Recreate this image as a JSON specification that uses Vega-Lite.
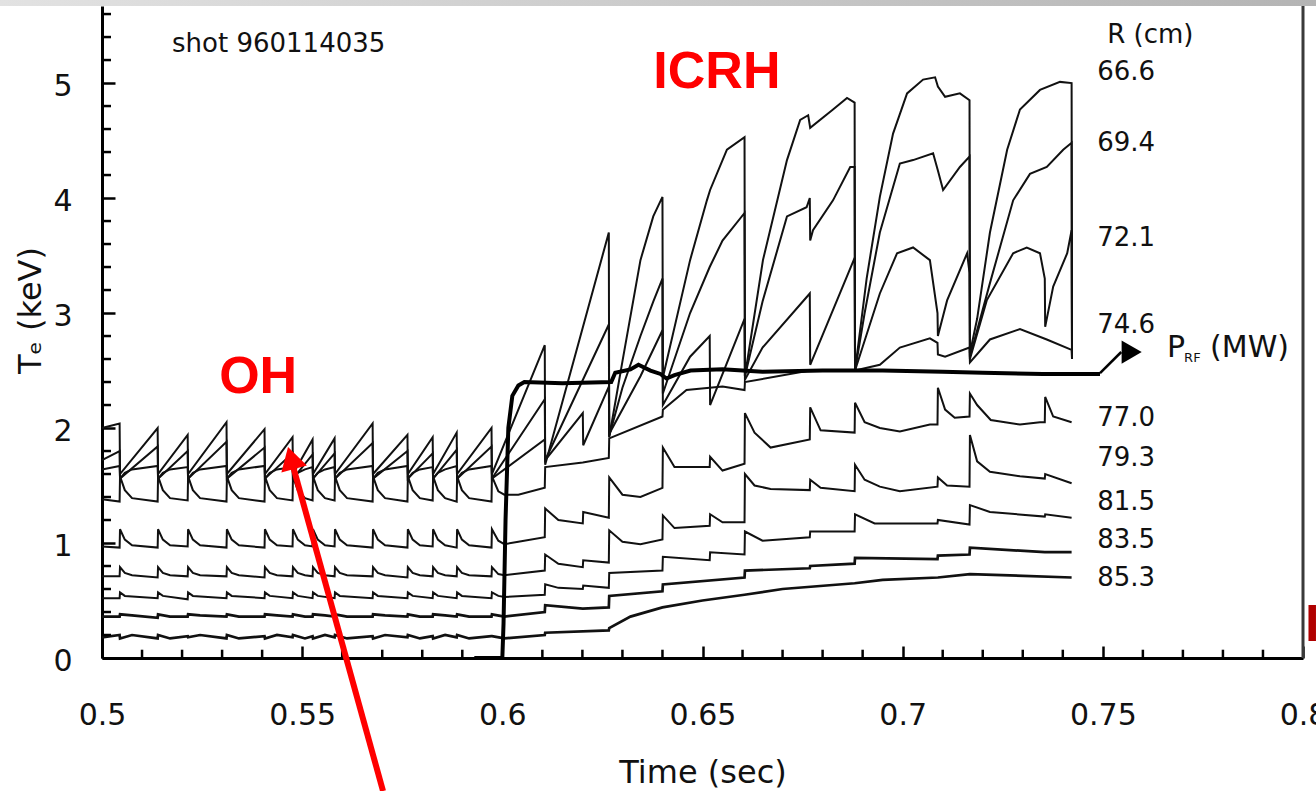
{
  "$schema": "https://vega.github.io/schema/vega-lite/v6.json",
  "width": 1201,
  "height": 652,
  "autosize": {"type": "none"},
  "padding": {"left": 102, "top": 6, "right": 13, "bottom": 133},
  "background": "white",
  "config": {"view": {"stroke": null}, "font": "DejaVu Sans", "axis": {"grid": false}},
  "datasets": {
    "te": [
      {"t":0.5,"a":2.0,"b":1.72,"c":1.64,"d":1.38,"e":0.97,"f":0.71,"g":0.52,"h":0.36,"i":0.18},
      {"t":0.5044,"a":2.04,"b":1.8,"c":1.67,"d":1.36,"e":0.96,"f":0.71,"g":0.52,"h":0.36,"i":0.2},
      {"t":0.5045,"a":1.6,"b":1.56,"c":1.56,"d":1.58,"e":1.12,"f":0.79,"g":0.57,"h":0.38,"i":0.17},
      {"t":0.5057,"c":1.61,"d":1.46,"e":1.03,"f":0.74,"g":0.54},
      {"t":0.5075,"c":1.64,"d":1.39,"e":0.98,"f":0.72,"h":0.37,"i":0.2},
      {"t":0.5139,"a":2.0,"b":1.84,"c":1.67,"d":1.36,"e":0.96,"f":0.7,"g":0.52,"h":0.35,"i":0.17},
      {"t":0.514,"a":1.6,"b":1.56,"c":1.56,"d":1.58,"e":1.12,"f":0.79,"g":0.57,"h":0.38,"i":0.2},
      {"t":0.5152,"c":1.61,"d":1.46,"e":1.03,"f":0.74,"g":0.54},
      {"t":0.517,"c":1.64,"d":1.39,"e":0.98,"f":0.72,"h":0.36,"i":0.17},
      {"t":0.5214,"a":1.94,"b":1.8,"c":1.66,"d":1.37,"e":0.97,"f":0.71,"g":0.51,"h":0.36,"i":0.19},
      {"t":0.5215,"a":1.6,"b":1.56,"c":1.56,"d":1.58,"e":1.12,"f":0.79,"g":0.57,"h":0.38,"i":0.18},
      {"t":0.5227,"c":1.61,"d":1.46,"e":1.03,"f":0.74,"g":0.54},
      {"t":0.5245,"c":1.64,"d":1.39,"e":0.98,"f":0.72,"h":0.37,"i":0.2},
      {"t":0.5311,"a":2.05,"b":1.88,"c":1.67,"d":1.36,"e":0.96,"f":0.71,"g":0.52,"h":0.36,"i":0.17},
      {"t":0.5312,"a":1.6,"b":1.56,"c":1.56,"d":1.58,"e":1.12,"f":0.79,"g":0.57,"h":0.38,"i":0.2},
      {"t":0.5324,"c":1.61,"d":1.46,"e":1.03,"f":0.74,"g":0.54},
      {"t":0.5342,"c":1.64,"d":1.39,"e":0.98,"f":0.72,"h":0.36,"i":0.17},
      {"t":0.5406,"a":1.99,"b":1.83,"c":1.67,"d":1.36,"e":0.96,"f":0.7,"g":0.52,"h":0.36,"i":0.19},
      {"t":0.5407,"a":1.6,"b":1.56,"c":1.56,"d":1.58,"e":1.12,"f":0.79,"g":0.57,"h":0.38,"i":0.17},
      {"t":0.5419,"c":1.61,"d":1.46,"e":1.03,"f":0.74,"g":0.54},
      {"t":0.5437,"c":1.64,"d":1.39,"e":0.98,"f":0.72,"h":0.37,"i":0.2},
      {"t":0.5476,"a":1.92,"b":1.78,"c":1.66,"d":1.37,"e":0.97,"f":0.71,"g":0.52,"h":0.36,"i":0.18},
      {"t":0.5477,"a":1.6,"b":1.56,"c":1.56,"d":1.58,"e":1.12,"f":0.79,"g":0.57,"h":0.38,"i":0.2},
      {"t":0.5489,"c":1.61,"d":1.46,"e":1.03,"f":0.74,"g":0.54},
      {"t":0.5507,"c":1.64,"d":1.39,"e":0.98,"f":0.72,"h":0.36,"i":0.17},
      {"t":0.5526,"a":1.9,"b":1.77,"c":1.66,"d":1.37,"e":0.97,"f":0.71,"g":0.52,"h":0.36,"i":0.19},
      {"t":0.5527,"a":1.6,"b":1.56,"c":1.56,"d":1.58,"e":1.12,"f":0.79,"g":0.57,"h":0.38,"i":0.17},
      {"t":0.5539,"c":1.61,"d":1.46,"e":1.03,"f":0.74,"g":0.54},
      {"t":0.5557,"c":1.64,"d":1.39,"e":0.98,"f":0.72,"h":0.37,"i":0.2},
      {"t":0.5581,"a":1.91,"b":1.78,"c":1.66,"d":1.37,"e":0.97,"f":0.71,"g":0.52,"h":0.36,"i":0.18},
      {"t":0.5582,"a":1.6,"b":1.56,"c":1.56,"d":1.58,"e":1.12,"f":0.79,"g":0.57,"h":0.38,"i":0.2},
      {"t":0.5594,"c":1.61,"d":1.46,"e":1.03,"f":0.74,"g":0.54},
      {"t":0.5612,"c":1.64,"d":1.39,"e":0.98,"f":0.72,"h":0.36,"i":0.17},
      {"t":0.5676,"a":2.04,"b":1.87,"c":1.67,"d":1.36,"e":0.96,"f":0.71,"g":0.52,"h":0.36,"i":0.19},
      {"t":0.5677,"a":1.6,"b":1.56,"c":1.56,"d":1.58,"e":1.12,"f":0.79,"g":0.57,"h":0.38,"i":0.17},
      {"t":0.5689,"c":1.61,"d":1.46,"e":1.03,"f":0.74,"g":0.54},
      {"t":0.5707,"c":1.64,"d":1.39,"e":0.98,"f":0.72,"h":0.37,"i":0.2},
      {"t":0.5763,"a":1.94,"b":1.8,"c":1.67,"d":1.36,"e":0.96,"f":0.7,"g":0.52,"h":0.36,"i":0.18},
      {"t":0.5764,"a":1.6,"b":1.56,"c":1.56,"d":1.58,"e":1.12,"f":0.79,"g":0.57,"h":0.38,"i":0.2},
      {"t":0.5776,"c":1.61,"d":1.46,"e":1.03,"f":0.74,"g":0.54},
      {"t":0.5794,"c":1.64,"d":1.39,"e":0.98,"f":0.72,"h":0.36,"i":0.17},
      {"t":0.5826,"a":1.92,"b":1.78,"c":1.66,"d":1.37,"e":0.97,"f":0.71,"g":0.52,"h":0.36,"i":0.19},
      {"t":0.5827,"a":1.6,"b":1.56,"c":1.56,"d":1.58,"e":1.12,"f":0.79,"g":0.57,"h":0.38,"i":0.17},
      {"t":0.5839,"c":1.61,"d":1.46,"e":1.03,"f":0.74,"g":0.54},
      {"t":0.5857,"c":1.64,"d":1.39,"e":0.98,"f":0.72,"h":0.37,"i":0.2},
      {"t":0.5886,"a":1.96,"b":1.81,"c":1.67,"d":1.36,"e":0.96,"f":0.71,"g":0.52,"h":0.36,"i":0.18},
      {"t":0.5887,"a":1.6,"b":1.56,"c":1.56,"d":1.58,"e":1.12,"f":0.79,"g":0.57,"h":0.38,"i":0.2},
      {"t":0.5899,"c":1.61,"d":1.46,"e":1.03,"f":0.74,"g":0.54},
      {"t":0.5917,"c":1.64,"d":1.39,"e":0.98,"f":0.72,"h":0.36,"i":0.17},
      {"t":0.5973,"a":2.0,"b":1.84,"c":1.67,"d":1.36,"e":0.96,"f":0.71,"g":0.52,"h":0.36,"i":0.19},
      {"t":0.5974,"a":1.6,"b":1.56,"c":1.56,"d":1.58,"e":1.12,"f":0.79,"g":0.57,"h":0.38,"i":0.19},
      {"t":0.599,"d":1.45,"e":1.02,"f":0.73,"g":0.54},
      {"t":0.6005,"d":1.42,"e":0.99,"f":0.72,"g":0.53,"h":0.36,"i":0.17},
      {"t":0.604,"d":1.42,"e":1.01},
      {"t":0.6106,"a":2.72,"b":2.25,"c":1.9,"d":1.48,"e":1.05,"f":0.76,"g":0.55,"h":0.4,"i":0.2},
      {"t":0.6107,"a":1.68,"b":1.72,"c":1.72,"d":1.66,"e":1.3,"f":0.9,"g":0.64,"h":0.46,"i":0.22},
      {"t":0.614,"e":1.2,"f":0.82,"g":0.61},
      {"t":0.6201,"c":2.13,"d":1.7,"e":1.17,"f":0.79,"g":0.6,"h":0.43},
      {"t":0.6202,"c":1.85,"e":1.27,"f":0.85,"g":0.63},
      {"t":0.6266,"a":3.7,"b":2.9,"c":2.36,"d":1.74,"e":1.22,"f":0.83,"g":0.61,"h":0.44,"i":0.24},
      {"t":0.6267,"a":1.92,"b":1.93,"c":1.95,"d":1.91,"e":1.57,"f":1.11,"g":0.74,"h":0.54,"i":0.26},
      {"t":0.63,"a":2.58,"b":2.35,"e":1.42,"f":1.01},
      {"t":0.632,"i":0.36},
      {"t":0.6345,"a":3.46,"b":2.8,"c":2.45,"e":1.4,"f":0.99},
      {"t":0.6377,"a":3.84,"b":3.1},
      {"t":0.64,"a":4.01,"b":3.3,"c":2.85,"d":2.1,"e":1.48,"f":1.03,"g":0.76,"h":0.58,"i":0.44},
      {"t":0.6401,"a":2.44,"b":2.3,"c":2.2,"d":2.16,"e":1.83,"f":1.24,"g":0.88,"h":0.64},
      {"t":0.643,"e":1.66,"f":1.13},
      {"t":0.646,"d":2.33},
      {"t":0.6469,"a":3.46,"b":3.0,"c":2.62},
      {"t":0.65,"i":0.5},
      {"t":0.6511,"a":3.98},
      {"t":0.6518,"b":3.4,"c":2.8,"e":1.66,"f":1.15,"g":0.85},
      {"t":0.6519,"a":4.07,"c":2.2,"e":1.75,"f":1.25,"g":0.92},
      {"t":0.655,"b":3.63,"d":2.36,"e":1.63,"f":1.18},
      {"t":0.6561,"a":4.42},
      {"t":0.6605,"a":4.53,"b":3.87,"c":2.95,"d":2.33,"e":1.69,"f":1.18,"g":0.9,"h":0.7,"i":0.55},
      {"t":0.6606,"a":2.45,"b":2.45,"c":2.42,"d":2.4,"e":2.13,"f":1.6,"g":1.1,"h":0.76},
      {"t":0.663,"e":1.96,"f":1.5},
      {"t":0.665,"b":3.1,"c":2.7,"g":1.02},
      {"t":0.6651,"a":3.46},
      {"t":0.667,"e":1.83,"f":1.47},
      {"t":0.67,"i":0.6},
      {"t":0.6711,"a":4.33,"b":3.84},
      {"t":0.6744,"a":4.68},
      {"t":0.676,"b":3.92},
      {"t":0.6764,"a":4.72},
      {"t":0.6768,"b":4.0,"c":3.17,"d":2.5,"e":1.9,"f":1.46,"g":1.05,"h":0.78},
      {"t":0.6769,"a":4.61,"b":3.63,"c":2.55,"e":2.18,"f":1.55,"g":1.1,"h":0.8},
      {"t":0.6776,"b":3.72},
      {"t":0.6795,"e":1.98,"f":1.48},
      {"t":0.6826,"a":4.77,"b":3.98},
      {"t":0.6861,"a":4.87},
      {"t":0.6869,"b":4.27},
      {"t":0.688,"a":4.83,"b":4.27,"c":3.48,"d":2.5,"e":1.96,"f":1.45,"g":1.1,"h":0.82,"i":0.65},
      {"t":0.6881,"a":2.5,"b":2.5,"c":2.5,"d":2.5,"e":2.22,"f":1.68,"g":1.25,"h":0.87},
      {"t":0.6905,"b":3.0,"e":2.05,"f":1.55},
      {"t":0.691,"a":3.3},
      {"t":0.693,"g":1.17},
      {"t":0.6943,"a":4.01,"b":3.7,"c":3.17,"d":2.55,"e":2.0,"f":1.49},
      {"t":0.695,"i":0.68},
      {"t":0.6976,"a":4.56},
      {"t":0.6986,"c":3.52},
      {"t":0.6993,"b":4.3,"d":2.7,"e":1.97,"f":1.45},
      {"t":0.7011,"a":4.91},
      {"t":0.7026,"b":4.33,"c":3.57},
      {"t":0.7051,"a":5.03},
      {"t":0.7068,"c":3.46,"d":2.78,"e":2.03},
      {"t":0.7076,"b":4.39},
      {"t":0.7081,"a":5.05},
      {"t":0.7087,"c":3.0,"d":2.74,"e":2.03,"f":1.49,"g":1.17,"h":0.86},
      {"t":0.7088,"a":4.97,"b":4.24,"c":2.8,"d":2.64,"e":2.35,"f":1.57,"g":1.2,"h":0.89,"i":0.7},
      {"t":0.7101,"b":4.07},
      {"t":0.7106,"a":4.88,"d":2.62,"e":2.16},
      {"t":0.7111,"c":3.11,"f":1.5},
      {"t":0.713,"e":2.09},
      {"t":0.7143,"a":4.91,"b":4.27},
      {"t":0.7161,"c":3.52},
      {"t":0.7167,"a":4.85,"b":4.36,"c":3.35,"d":2.7,"e":2.1,"f":1.49,"g":1.16,"h":0.9},
      {"t":0.7168,"a":2.65,"b":2.62,"c":2.6,"d":2.57,"e":2.3,"f":1.94,"g":1.33,"h":0.96,"i":0.73},
      {"t":0.7186,"a":2.95,"e":2.2,"f":1.71},
      {"t":0.721,"c":3.11},
      {"t":0.7218,"a":3.7,"b":3.26,"d":2.77,"f":1.62,"g":1.27},
      {"t":0.722,"e":2.07},
      {"t":0.7261,"a":4.42},
      {"t":0.7276,"b":3.98,"c":3.52},
      {"t":0.7293,"a":4.77,"d":2.86,"e":2.03,"f":1.58},
      {"t":0.731,"c":3.57},
      {"t":0.7318,"b":4.21},
      {"t":0.7343,"a":4.94,"c":3.52,"e":2.05},
      {"t":0.7355,"c":3.3,"e":2.05,"f":1.56,"g":1.23,"h":0.92},
      {"t":0.7356,"c":2.88,"e":2.27,"f":1.6,"g":1.25},
      {"t":0.736,"b":4.27,"d":2.77},
      {"t":0.7376,"c":3.23,"e":2.1},
      {"t":0.7393,"a":5.01},
      {"t":0.7401,"b":4.42},
      {"t":0.7411,"c":3.52},
      {"t":0.7422,"a":5.0,"b":4.48,"c":3.72,"d":2.68,"e":2.05,"f":1.52,"g":1.22,"h":0.92,"i":0.7},
      {"t":0.7423,"a":2.6,"b":2.6,"c":2.6,"d":2.6}
    ],
    "prf": [
      {"t":0.593,"v":0},{"t":0.6,"v":0},{"t":0.6003,"v":0.3},{"t":0.6008,"v":1.2},{"t":0.6015,"v":2.0},
      {"t":0.6025,"v":2.28},{"t":0.604,"v":2.37},{"t":0.6055,"v":2.4},{"t":0.615,"v":2.39},{"t":0.6272,"v":2.4},
      {"t":0.6282,"v":2.48},{"t":0.632,"v":2.51},{"t":0.634,"v":2.55},{"t":0.637,"v":2.5},{"t":0.6395,"v":2.47},
      {"t":0.641,"v":2.43},{"t":0.643,"v":2.46},{"t":0.647,"v":2.5},{"t":0.655,"v":2.51},{"t":0.665,"v":2.49},
      {"t":0.68,"v":2.5},{"t":0.695,"v":2.5},{"t":0.71,"v":2.49},{"t":0.72,"v":2.48},{"t":0.735,"v":2.47},{"t":0.7493,"v":2.47}
    ],
    "xminor": [
      {"t":0.51},{"t":0.52},{"t":0.53},{"t":0.54},{"t":0.56},{"t":0.57},{"t":0.58},{"t":0.59},
      {"t":0.61},{"t":0.62},{"t":0.63},{"t":0.64},{"t":0.66},{"t":0.67},{"t":0.68},{"t":0.69},
      {"t":0.71},{"t":0.72},{"t":0.73},{"t":0.74},{"t":0.76},{"t":0.77},{"t":0.78},{"t":0.79}
    ],
    "yminor": [
      {"v":0.2},{"v":0.4},{"v":0.6},{"v":0.8},{"v":1.2},{"v":1.4},{"v":1.6},{"v":1.8},
      {"v":2.2},{"v":2.4},{"v":2.6},{"v":2.8},{"v":3.2},{"v":3.4},{"v":3.6},{"v":3.8},
      {"v":4.2},{"v":4.4},{"v":4.6},{"v":4.8},{"v":5.2},{"v":5.4},{"v":5.6}
    ],
    "parrow": [{"t":0.7493,"v":2.478,"t2":0.7546,"v2":2.661}],
    "phead": [{"t":0.7572,"v":2.661}],
    "rarrow": [{"t":0.5702,"v":-1.157,"t2":0.5477,"v2":1.67}],
    "rhead": [{"t":0.54723,"v":1.739}],
    "lab1": [{"t":0.5175,"v":5.34,"s":"shot 960114035"}],
    "lab2": [
      {"t":0.7511,"v":5.417,"s":"R (cm)"},
      {"t":0.7486,"v":5.096,"s":"66.6"},
      {"t":0.7486,"v":4.478,"s":"69.4"},
      {"t":0.7486,"v":3.652,"s":"72.1"},
      {"t":0.7486,"v":2.896,"s":"74.6"},
      {"t":0.7486,"v":2.087,"s":"77.0"},
      {"t":0.7486,"v":1.739,"s":"79.3"},
      {"t":0.7486,"v":1.357,"s":"81.5"},
      {"t":0.7486,"v":1.026,"s":"83.5"},
      {"t":0.7486,"v":0.696,"s":"85.3"}
    ],
    "lab3": [{"t":0.766,"v":2.70,"s":"P"},{"t":0.7768,"v":2.70,"s":"(MW)"}],
    "lab4": [{"t":0.7703,"v":2.61,"s":"RF"}],
    "lab5": [{"t":0.6536,"v":5.10,"s":"ICRH"},{"t":0.539,"v":2.44,"s":"OH"}],
    "lab6": [{"t":0.8005,"v":0.29,"s":"I"}]
  },
  "layer": [
    {
      "data": {"name": "te"},
      "transform": [
        {"fold": ["a", "b", "c", "d", "e", "f", "g"], "as": ["ch", "val"]},
        {"filter": "isValid(datum.val)"}
      ],
      "mark": {"type": "line", "color": "#111111", "strokeWidth": 2},
      "encoding": {
        "x": {
          "field": "t", "type": "quantitative", "title": "Time (sec)",
          "scale": {"domain": [0.5, 0.8], "nice": false, "zero": false},
          "axis": {
            "title": "Time (sec)",
            "values": [0.5, 0.55, 0.6, 0.65, 0.7, 0.75, 0.8],
            "format": "~g",
            "labelFont": "DejaVu Sans", "labelFontSize": 30, "labelColor": "#111111",
            "labelPadding": 54, "labelFlush": false, "labelOverlap": false, "labelBaseline": "top",
            "tickSize": -12, "tickColor": "#000000", "tickWidth": 2.5,
            "domainColor": "#000000", "domainWidth": 3, "grid": false,
            "titleFont": "DejaVu Sans", "titleFontSize": 32, "titleFontWeight": "normal", "titleColor": "#111111",
            "titleY": 114, "titleBaseline": "middle"
          }
        },
        "y": {
          "field": "val", "type": "quantitative", "title": "Tₑ (keV)",
          "scale": {"domain": [0, 5.67], "nice": false, "zero": false},
          "axis": {
            "title": "Tₑ (keV)",
            "values": [0, 1, 2, 3, 4, 5],
            "format": "d",
            "labelFont": "DejaVu Sans", "labelFontSize": 30, "labelColor": "#111111",
            "labelPadding": 43, "labelFlush": false, "labelOverlap": false, "labelBaseline": "middle", "labelOffset": 3,
            "tickSize": -13, "tickColor": "#000000", "tickWidth": 2.5,
            "domainColor": "#000000", "domainWidth": 3, "grid": false,
            "titleFont": "DejaVu Sans", "titleFontSize": 32, "titleFontWeight": "normal", "titleColor": "#111111",
            "titleX": -72, "titleY": 304, "titleAngle": -90, "titleAlign": "center", "titleBaseline": "middle"
          }
        },
        "detail": {"field": "ch"}
      }
    },
    {
      "data": {"name": "te"},
      "transform": [
        {"fold": ["h", "i"], "as": ["ch", "val"]},
        {"filter": "isValid(datum.val)"}
      ],
      "mark": {"type": "line", "color": "#111111", "strokeWidth": 2.7},
      "encoding": {
        "x": {"field": "t", "type": "quantitative", "title": "Time (sec)"},
        "y": {"field": "val", "type": "quantitative", "title": "Tₑ (keV)"},
        "detail": {"field": "ch"}
      }
    },
    {
      "data": {"values": [{}]},
      "mark": {"type": "rect", "color": {"gradient": "linear", "stops": [{"offset": 0, "color": "#e2e2e2"}, {"offset": 1, "color": "#b4b4b4"}]}},
      "encoding": {
        "x": {"datum": 0.4745, "type": "quantitative"},
        "x2": {"datum": 0.8035},
        "y": {"datum": 5.67, "type": "quantitative"},
        "y2": {"datum": 5.75}
      }
    },
    {
      "data": {"name": "xminor"},
      "mark": {"type": "rule", "color": "#000000", "strokeWidth": 2.5},
      "encoding": {
        "x": {"field": "t", "type": "quantitative", "title": "Time (sec)"},
        "y": {"datum": 0, "type": "quantitative"},
        "y2": {"datum": 0.072}
      }
    },
    {
      "data": {"name": "yminor"},
      "mark": {"type": "rule", "color": "#000000", "strokeWidth": 2.5},
      "encoding": {
        "x": {"datum": 0.5, "type": "quantitative"},
        "x2": {"datum": 0.50225},
        "y": {"field": "v", "type": "quantitative", "title": "Tₑ (keV)"}
      }
    },
    {
      "data": {"name": "prf"},
      "mark": {"type": "line", "color": "#000000", "strokeWidth": 4},
      "encoding": {
        "x": {"field": "t", "type": "quantitative", "title": "Time (sec)"},
        "y": {"field": "v", "type": "quantitative", "title": "Tₑ (keV)"}
      }
    },
    {
      "data": {"name": "parrow"},
      "mark": {"type": "rule", "color": "#000000", "strokeWidth": 2.5},
      "encoding": {
        "x": {"field": "t", "type": "quantitative", "title": "Time (sec)"},
        "y": {"field": "v", "type": "quantitative", "title": "Tₑ (keV)"},
        "x2": {"field": "t2"},
        "y2": {"field": "v2"}
      }
    },
    {
      "data": {"name": "phead"},
      "mark": {"type": "point", "shape": "triangle-right", "filled": true, "color": "#000000", "size": 540, "opacity": 1, "strokeWidth": 0},
      "encoding": {
        "x": {"field": "t", "type": "quantitative", "title": "Time (sec)"},
        "y": {"field": "v", "type": "quantitative", "title": "Tₑ (keV)"}
      }
    },
    {
      "data": {"values": [{}]},
      "mark": {"type": "rule", "color": "#3a3a3a", "strokeWidth": 3},
      "encoding": {
        "x": {"datum": 0.8, "type": "quantitative"},
        "y": {"datum": 0, "type": "quantitative"},
        "y2": {"datum": 5.67}
      }
    },
    {
      "data": {"name": "lab1"},
      "mark": {"type": "text", "align": "left", "baseline": "middle", "font": "DejaVu Sans", "fontSize": 26, "color": "#111111"},
      "encoding": {
        "x": {"field": "t", "type": "quantitative", "title": "Time (sec)"},
        "y": {"field": "v", "type": "quantitative", "title": "Tₑ (keV)"},
        "text": {"field": "s"}
      }
    },
    {
      "data": {"name": "lab2"},
      "mark": {"type": "text", "align": "left", "baseline": "middle", "font": "DejaVu Sans", "fontSize": 26, "color": "#111111"},
      "encoding": {
        "x": {"field": "t", "type": "quantitative", "title": "Time (sec)"},
        "y": {"field": "v", "type": "quantitative", "title": "Tₑ (keV)"},
        "text": {"field": "s"}
      }
    },
    {
      "data": {"name": "lab3"},
      "mark": {"type": "text", "align": "left", "baseline": "middle", "font": "DejaVu Sans", "fontSize": 30, "color": "#111111"},
      "encoding": {
        "x": {"field": "t", "type": "quantitative", "title": "Time (sec)"},
        "y": {"field": "v", "type": "quantitative", "title": "Tₑ (keV)"},
        "text": {"field": "s"}
      }
    },
    {
      "data": {"name": "lab4"},
      "mark": {"type": "text", "align": "left", "baseline": "middle", "font": "DejaVu Sans", "fontSize": 13, "color": "#111111"},
      "encoding": {
        "x": {"field": "t", "type": "quantitative", "title": "Time (sec)"},
        "y": {"field": "v", "type": "quantitative", "title": "Tₑ (keV)"},
        "text": {"field": "s"}
      }
    },
    {
      "data": {"name": "lab5"},
      "mark": {"type": "text", "align": "center", "baseline": "middle", "font": "Liberation Sans", "fontWeight": "bold", "fontSize": 52, "color": "#ff0000"},
      "encoding": {
        "x": {"field": "t", "type": "quantitative", "title": "Time (sec)"},
        "y": {"field": "v", "type": "quantitative", "title": "Tₑ (keV)"},
        "text": {"field": "s"}
      }
    },
    {
      "data": {"name": "lab6"},
      "mark": {"type": "text", "align": "left", "baseline": "middle", "font": "Liberation Sans", "fontWeight": "bold", "fontSize": 52, "color": "#b00000"},
      "encoding": {
        "x": {"field": "t", "type": "quantitative", "title": "Time (sec)"},
        "y": {"field": "v", "type": "quantitative", "title": "Tₑ (keV)"},
        "text": {"field": "s"}
      }
    },
    {
      "data": {"name": "rarrow"},
      "mark": {"type": "rule", "color": "#ff0000", "strokeWidth": 6},
      "encoding": {
        "x": {"field": "t", "type": "quantitative", "title": "Time (sec)"},
        "y": {"field": "v", "type": "quantitative", "title": "Tₑ (keV)"},
        "x2": {"field": "t2"},
        "y2": {"field": "v2"}
      }
    },
    {
      "data": {"name": "rhead"},
      "mark": {"type": "point", "shape": "triangle-up", "filled": true, "color": "#ff0000", "size": 700, "angle": -15.4, "opacity": 1, "strokeWidth": 0},
      "encoding": {
        "x": {"field": "t", "type": "quantitative", "title": "Time (sec)"},
        "y": {"field": "v", "type": "quantitative", "title": "Tₑ (keV)"}
      }
    }
  ]
}
